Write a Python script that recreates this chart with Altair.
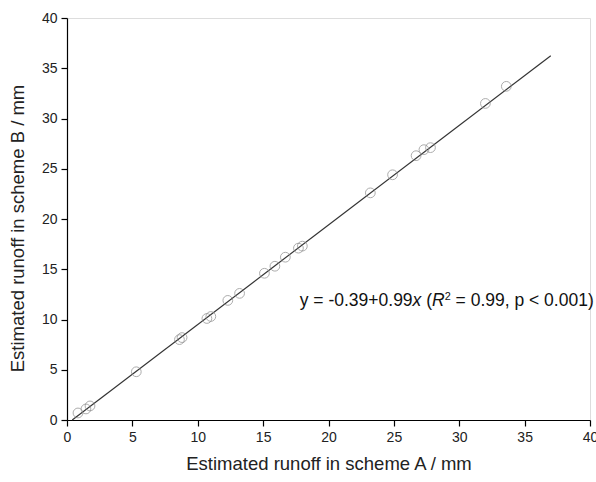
import altair as alt
import pandas as pd

scheme_a = [0.84, 1.45, 1.76, 5.3, 8.6, 8.8, 10.7, 11.0, 12.3, 13.2, 15.1, 15.9, 16.7,
            17.7, 18.0, 23.2, 24.9, 26.7, 27.3, 27.8, 32.0, 33.6]
scheme_b = [0.7, 1.1, 1.4, 4.8, 8.0, 8.2, 10.1, 10.3, 11.9, 12.6, 14.6, 15.3, 16.2,
            17.1, 17.3, 22.6, 24.4, 26.3, 26.9, 27.1, 31.5, 33.2]

fit_x = [0.4, 37.0]
fit_y = [0.0, 36.24]

# annotation pieces: text, font style, relative size, leading gap and width in em (Arial metrics)
seg_text = ["y = -0.39+0.99", "x", "(", "R", "2", "= 0.99, p < 0.001)"]
seg_style = ["normal", "italic", "normal", "italic", "normal", "normal"]
seg_scale = [1.0, 1.0, 1.0, 1.0, 0.62, 1.0]
seg_rise = [0, 0, 0, 0, 6, 0]
seg_lead = [0, 0, 0.278, 0, 0, 0.278]
seg_em = [6.449, 0.5, 0.333, 0.722, 0.345, 7.895]
label_x = 17.8
label_y = 11.9
FS = 17.5

pts = pd.DataFrame({"a": scheme_a, "b": scheme_b})
fit = pd.DataFrame({"a": fit_x, "b": fit_y})

ticks = [i * 2.5 for i in range(17)]
tick_size = {"condition": {"test": "datum.value % 5 === 0", "value": 6}, "value": 3}

xs = alt.Scale(domain=[0, 40], nice=False, zero=False)
ys = alt.Scale(domain=[0, 40], nice=False, zero=False)

common = dict(values=ticks, labelExpr="datum.value % 5 === 0 ? datum.label : ''",
              tickSize=tick_size, grid=False, labelFontSize=14, titleFontSize=18.5,
              titleFontWeight="normal", labelFont="Liberation Sans", titleFont="Liberation Sans",
              domainColor="black", tickColor="black", labelColor="#222", titleColor="#222",
              labelPadding=4, labelFlush=False, labelOverlap=False, tickWidth=1.2, domainWidth=1.2)
x_axis = alt.Axis(title="Estimated runoff in scheme A / mm", titlePadding=10, **common)
y_axis = alt.Axis(title="Estimated runoff in scheme B / mm", titlePadding=14, titleY=210, **common)

line = alt.Chart(fit).mark_line(color="#333", strokeWidth=1.2).encode(
    x=alt.X("a:Q", scale=xs, axis=x_axis),
    y=alt.Y("b:Q", scale=ys, axis=y_axis),
)
points = alt.Chart(pts).mark_point(shape="circle", filled=False, size=95, color="#8a8a8a",
                                   strokeWidth=1).encode(
    x=alt.X("a:Q", scale=xs), y=alt.Y("b:Q", scale=ys))

texts = []
off = 0.0
for t, st, sc, rise, lead, em in zip(seg_text, seg_style, seg_scale, seg_rise, seg_lead, seg_em):
    off += lead * FS
    d = pd.DataFrame({"a": [label_x], "b": [label_y], "t": [t]})
    texts.append(alt.Chart(d).mark_text(align="left", baseline="alphabetic", fontSize=FS * sc,
                                        fontStyle=st, font="Liberation Sans", color="#111",
                                        dx=off, dy=6 - rise).encode(
        x=alt.X("a:Q", scale=xs), y=alt.Y("b:Q", scale=ys), text="t:N"))
    off += em * FS

chart = alt.layer(line, points, *texts).properties(
    width=523, height=402,
    autosize=alt.AutoSizeParams(type="none"),
    padding={"left": 67, "top": 18, "right": 6, "bottom": 62},
).configure_view(stroke=None).configure(background="white")

chart.save("out.html", embed_options={"renderer": "svg", "actions": False})
